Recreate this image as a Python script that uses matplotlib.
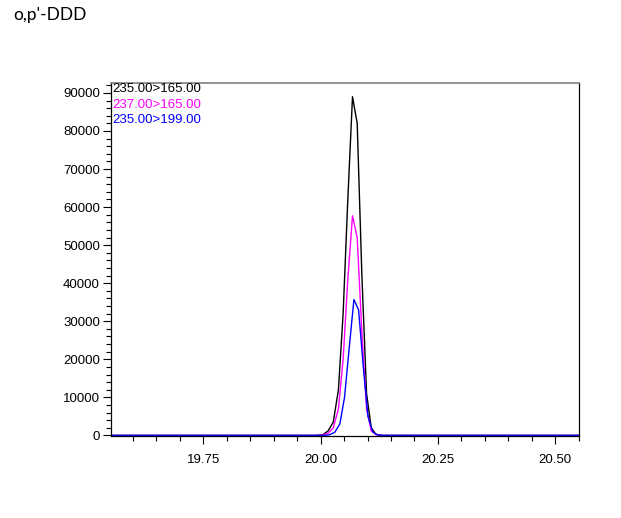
import matplotlib
matplotlib.use("Agg")
import matplotlib.pyplot as plt
from matplotlib.ticker import MultipleLocator

title = "o,p'-DDD"
labels = ["235.00>165.00", "237.00>165.00", "235.00>199.00"]
colors = ["#000000", "#FF00FF", "#0000FF"]

times = [19.553, 19.70, 19.85, 19.99, 20.005, 20.016, 20.027, 20.038, 20.048,
         20.058, 20.068, 20.078, 20.088, 20.098, 20.108, 20.118, 20.13,
         20.25, 20.40, 20.551]
black = [0, 0, 0, 0, 200, 1200, 3500, 12000, 32000,
         62000, 89000, 82000, 42000, 11000, 2000, 300, 0,
         0, 0, 0]
magenta = [0, 0, 0, 0, 100, 600, 2000, 7000, 20000,
           41000, 57700, 52000, 27000, 7000, 1200, 200, 0,
           0, 0, 0]
blue_times = [19.553, 19.70, 19.85, 19.99, 20.008, 20.019, 20.030, 20.041, 20.051,
              20.061, 20.071, 20.081, 20.091, 20.101, 20.111, 20.121, 20.133,
              20.25, 20.40, 20.551]
blue = [0, 0, 0, 0, 0, 200, 800, 3000, 10000,
        23000, 35700, 33000, 18000, 5000, 900, 150, 0,
        0, 0, 0]

xticks = [19.75, 20.00, 20.25, 20.50]
yticks = [0, 10000, 20000, 30000, 40000, 50000, 60000, 70000, 80000, 90000]

plt.rcParams['font.family'] = ['Liberation Sans', 'DejaVu Sans']

fig = plt.figure(figsize=(6.21, 5.18), dpi=100)
ax = fig.add_axes([111/621, 1-436/518, (579-111)/621, (436-83)/518])

ax.plot(times, black, color=colors[0], lw=1.0)
ax.plot(times, magenta, color=colors[1], lw=1.0)
ax.plot(blue_times, blue, color=colors[2], lw=1.0)

ax.set_xlim(19.553, 20.551)
ax.set_ylim(-150, 92600)
ax.set_xticks(xticks)
ax.set_xticklabels([f"{t:.2f}" for t in xticks])
ax.set_yticks(yticks)
ax.set_yticklabels([str(t) for t in yticks])
ax.xaxis.set_minor_locator(MultipleLocator(0.05))
ax.yaxis.set_minor_locator(MultipleLocator(2000))
ax.tick_params(axis='both', which='major', direction='out', length=6, width=0.8,
               labelsize=9.5, pad=2)
ax.tick_params(axis='both', which='minor', direction='out', length=3.5, width=0.8)
ax.tick_params(axis='x', pad=7)

ax.spines['top'].set_color('#808080')
ax.spines['top'].set_linewidth(1.2)
for s in ['left', 'right', 'bottom']:
    ax.spines[s].set_color('#000000')
    ax.spines[s].set_linewidth(0.9)

for i, (lab, c) in enumerate(zip(labels, colors)):
    ax.text(0.002, 1.0 - i * 0.044, lab, color=c, fontsize=9.5,
            transform=ax.transAxes, ha='left', va='top')

fig.text(13/621, 1-20/518, title, fontsize=12.5, family=['Lato', 'DejaVu Sans'],
         ha='left', va='baseline')

fig.savefig("out.png", dpi=100)
